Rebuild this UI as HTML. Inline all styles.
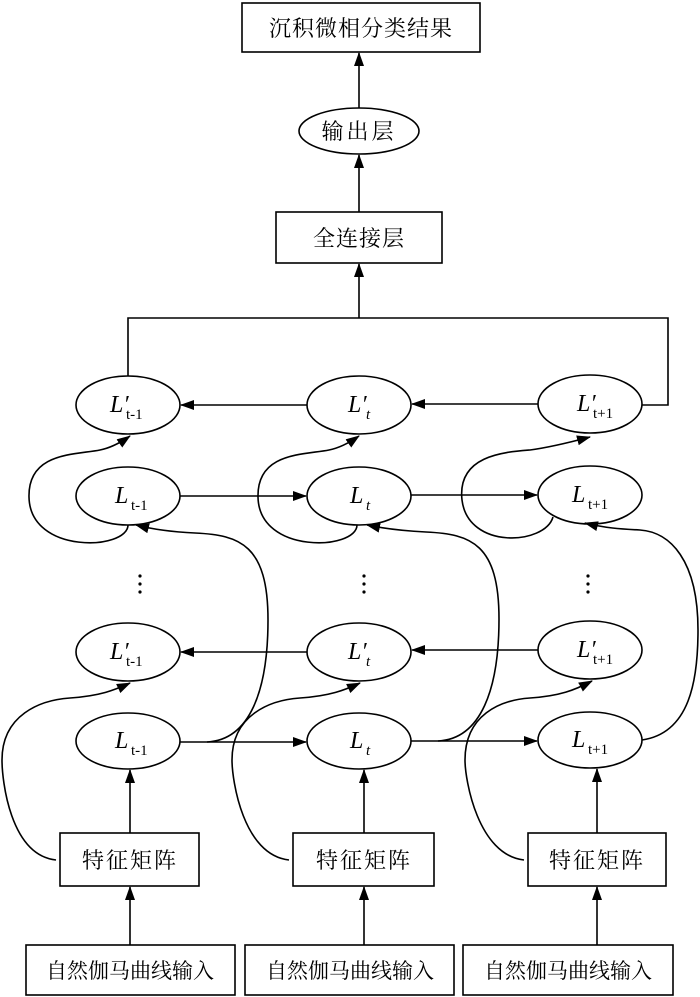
<!DOCTYPE html>
<html><head><meta charset="utf-8"><style>
html,body{margin:0;padding:0;background:#fff;}
svg{display:block;}
.cj{font-family:"Liberation Serif","Noto Serif CJK SC",serif;font-size:22px;}
.L{font-family:"Liberation Serif",serif;font-style:italic;font-size:24px;}
.s{font-family:"Liberation Serif",serif;font-size:15px;}
</style></head><body>
<svg width="700" height="997" viewBox="0 0 700 997" xmlns="http://www.w3.org/2000/svg">
<defs>
<marker id="a" markerWidth="14" markerHeight="10" refX="13" refY="5" orient="auto" markerUnits="userSpaceOnUse">
<path d="M0,0 L14,5 L0,10 z" fill="#000"/></marker>
</defs>
<g fill="none" stroke="#000" stroke-width="1.6">
<!-- top -->
<rect x="242" y="3" width="238" height="49" fill="#fff"/>
<ellipse cx="359" cy="131" rx="60" ry="23"/>
<rect x="276" y="212" width="166" height="51"/>
<line x1="359" y1="108" x2="359" y2="53" marker-end="url(#a)"/>
<line x1="359" y1="212" x2="359" y2="155" marker-end="url(#a)"/>
<line x1="359" y1="318" x2="359" y2="264" marker-end="url(#a)"/>
<polyline points="128,376 128,318 668,318 668,405 642,405"/>
<!-- ellipses -->
<ellipse cx="128" cy="405" rx="52" ry="29"/>
<ellipse cx="359" cy="405" rx="52" ry="29"/>
<ellipse cx="590" cy="404" rx="52" ry="29"/>
<ellipse cx="128" cy="496" rx="52" ry="29"/>
<ellipse cx="359" cy="496" rx="52" ry="29"/>
<ellipse cx="590" cy="495" rx="52" ry="29"/>
<ellipse cx="128" cy="652" rx="52" ry="29"/>
<ellipse cx="359" cy="652" rx="52" ry="29"/>
<ellipse cx="590" cy="650" rx="52" ry="29"/>
<ellipse cx="128" cy="741" rx="52" ry="28"/>
<ellipse cx="359" cy="741" rx="52" ry="28"/>
<ellipse cx="590" cy="740" rx="52" ry="28"/>
<!-- horizontal arrows -->
<line x1="307" y1="405" x2="181" y2="405" marker-end="url(#a)"/>
<line x1="538" y1="404" x2="412" y2="404" marker-end="url(#a)"/>
<line x1="180" y1="496" x2="306" y2="496" marker-end="url(#a)"/>
<line x1="411" y1="495" x2="537" y2="495" marker-end="url(#a)"/>
<line x1="307" y1="652" x2="181" y2="652" marker-end="url(#a)"/>
<line x1="538" y1="650" x2="412" y2="650" marker-end="url(#a)"/>
<line x1="180" y1="742" x2="306" y2="742" marker-end="url(#a)"/>
<line x1="411" y1="741" x2="537" y2="741" marker-end="url(#a)"/>
<!-- feature/input boxes -->
<rect x="60" y="833" width="139" height="53"/>
<rect x="293" y="833" width="141" height="53"/>
<rect x="528" y="833" width="138" height="53"/>
<rect x="26" y="945" width="209" height="50"/>
<rect x="245" y="945" width="209" height="50"/>
<rect x="463" y="945" width="210" height="50"/>
<line x1="130" y1="945" x2="130" y2="887" marker-end="url(#a)"/>
<line x1="364" y1="945" x2="364" y2="887" marker-end="url(#a)"/>
<line x1="597" y1="945" x2="597" y2="887" marker-end="url(#a)"/>
<line x1="130" y1="833" x2="130" y2="770" marker-end="url(#a)"/>
<line x1="364" y1="833" x2="364" y2="770" marker-end="url(#a)"/>
<line x1="597" y1="833" x2="597" y2="769" marker-end="url(#a)"/>
<!-- loops upper: L bottom -> L' bottom -->
<path d="M128,525 C128,550 30,555 29,497 C28,452 75,455 100,450 C110,448 120,443 130,436" marker-end="url(#a)"/>
<path d="M357,525 C357,550 259,555 258,497 C257,452 304,455 329,450 C339,448 349,443 359,436" marker-end="url(#a)"/>
<path d="M553,517 C545,545 468,550 462,500 C457,455 505,452 530,450 C545,448 560,445 590,437" marker-end="url(#a)"/>
<!-- feature -> L' lower -->
<path d="M56,860 C10,855 2,780 2,760 C2,715 40,700 70,698 C100,696 115,690 130,683" marker-end="url(#a)"/>
<path d="M289,860 C243,855 232,780 232,760 C232,715 270,700 300,698 C330,696 345,690 360,683" marker-end="url(#a)"/>
<path d="M524,860 C478,855 465,780 465,760 C465,715 500,700 530,698 C560,696 575,690 592,681" marker-end="url(#a)"/>
<!-- L lower -> L upper -->
<path d="M207,742 C250,740 268,690 268,620 C268,545 240,535 195,533 C175,532 155,530 136,525" marker-end="url(#a)"/>
<path d="M438,741 C481,739 499,689 499,619 C499,544 471,534 426,532 C406,531 386,529 367,525" marker-end="url(#a)"/>
<path d="M642,740 C690,733 698,680 698,630 C698,560 670,532 640,530 C620,529 605,528 585,523" marker-end="url(#a)"/>
</g>
<!-- dots -->
<g fill="#000">
<circle cx="140" cy="576" r="1.6"/><circle cx="140" cy="584" r="1.6"/><circle cx="140" cy="592" r="1.6"/>
<circle cx="364" cy="576" r="1.6"/><circle cx="364" cy="584" r="1.6"/><circle cx="364" cy="592" r="1.6"/>
<circle cx="588" cy="576" r="1.6"/><circle cx="588" cy="584" r="1.6"/><circle cx="588" cy="592" r="1.6"/>
</g>
<!-- text -->
<g class="cj" text-anchor="middle">
<text x="361" y="36" letter-spacing="1">沉积微相分类结果</text>
<text x="359" y="139" letter-spacing="3">输出层</text>
<text x="359" y="246" letter-spacing="1">全连接层</text>
<text x="130" y="868" letter-spacing="2">特征矩阵</text>
<text x="364" y="868" letter-spacing="2">特征矩阵</text>
<text x="597" y="868" letter-spacing="2">特征矩阵</text>
<text x="130" y="978" font-size="21">自然伽马曲线输入</text>
<text x="350" y="978" font-size="21">自然伽马曲线输入</text>
<text x="568" y="978" font-size="21">自然伽马曲线输入</text>
</g>
<g>
<text class="L" x="110" y="412">L′</text><text class="s" x="126" y="419">t-1</text>
<text class="L" x="348" y="412">L′</text><text class="s" x="366" y="419" font-style="italic">t</text>
<text class="L" x="577" y="411">L′</text><text class="s" x="593" y="418">t+1</text>
<text class="L" x="115" y="503">L</text><text class="s" x="131" y="510">t-1</text>
<text class="L" x="350" y="503">L</text><text class="s" x="366" y="510" font-style="italic">t</text>
<text class="L" x="572" y="502">L</text><text class="s" x="588" y="509">t+1</text>
<text class="L" x="110" y="659">L′</text><text class="s" x="126" y="666">t-1</text>
<text class="L" x="348" y="659">L′</text><text class="s" x="366" y="666" font-style="italic">t</text>
<text class="L" x="577" y="657">L′</text><text class="s" x="593" y="664">t+1</text>
<text class="L" x="115" y="748">L</text><text class="s" x="131" y="755">t-1</text>
<text class="L" x="350" y="748">L</text><text class="s" x="366" y="755" font-style="italic">t</text>
<text class="L" x="572" y="747">L</text><text class="s" x="588" y="754">t+1</text>
</g>
</svg>
</body></html>
